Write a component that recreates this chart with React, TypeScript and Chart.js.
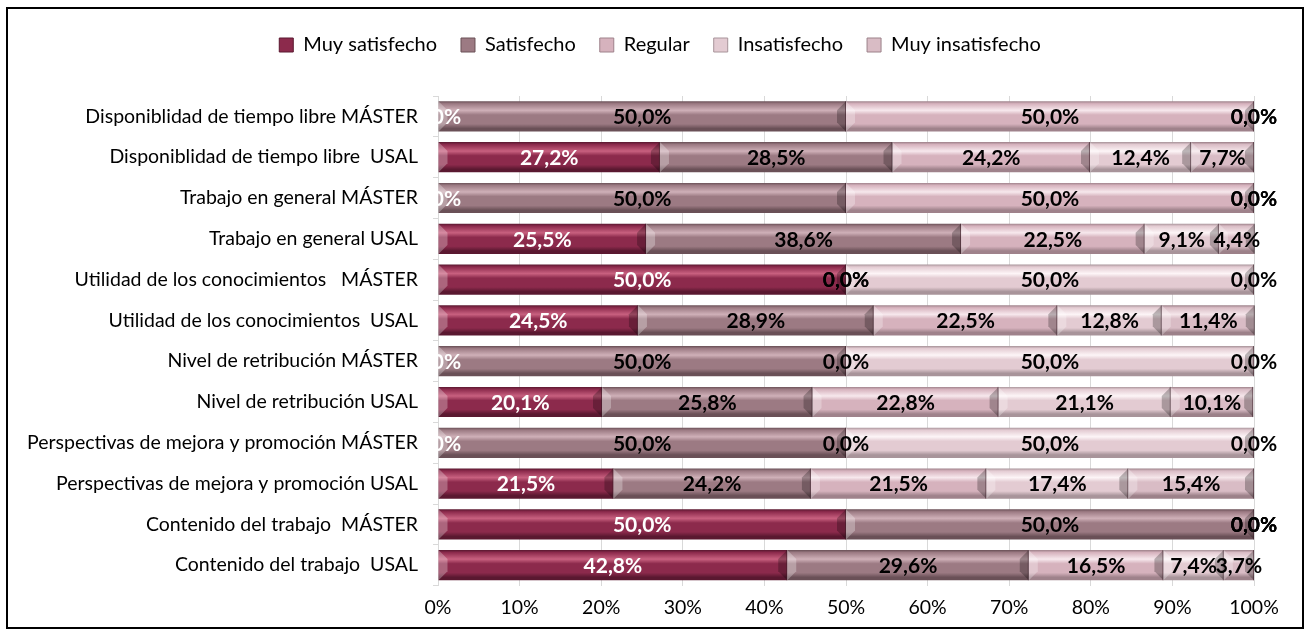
import React, { useEffect, useRef } from "react";
import { Chart, registerables } from "chart.js";

Chart.register(...registerables);

const categories = [
  "Disponiblidad de tiempo libre MÁSTER",
  "Disponiblidad de tiempo libre  USAL",
  "Trabajo en general MÁSTER",
  "Trabajo en general USAL",
  "Utilidad de los conocimientos   MÁSTER",
  "Utilidad de los conocimientos  USAL",
  "Nivel de retribución MÁSTER",
  "Nivel de retribución USAL",
  "Perspectivas de mejora y promoción MÁSTER",
  "Perspectivas de mejora y promoción USAL",
  "Contenido del trabajo  MÁSTER",
  "Contenido del trabajo  USAL",
];

const seriesNames = ["Muy satisfecho", "Satisfecho", "Regular", "Insatisfecho", "Muy insatisfecho"];

const muySatisfecho = [0, 27.2, 0, 25.5, 50, 24.5, 0, 20.1, 0, 21.5, 50, 42.8];
const satisfecho = [50, 28.5, 50, 38.6, 0, 28.9, 50, 25.8, 50, 24.2, 50, 29.6];
const regular = [50, 24.2, 50, 22.5, 0, 22.5, 0, 22.8, 0, 21.5, 0, 16.5];
const insatisfecho = [0, 12.4, 0, 9.1, 50, 12.8, 50, 21.1, 50, 17.4, 0, 7.4];
const muyInsatisfecho = [0, 7.7, 0, 4.4, 0, 11.4, 0, 10.1, 0, 15.4, 0, 3.7];

const xTicks = [0, 10, 20, 30, 40, 50, 60, 70, 80, 90, 100];

// [base, highlight, dark]
const palettes: [string, string, string][] = [
  ["#8c2a4c", "#c8607f", "#5a1830"],
  ["#9c7a83", "#cfb0b8", "#6a5057"],
  ["#d6b2bd", "#f7e8ed", "#9f828b"],
  ["#e3cbd2", "#fdf5f7", "#a8949a"],
  ["#d9bcc5", "#f5e6ea", "#9c8189"],
];
const labelColors = ["#ffffff", "#000000", "#000000", "#000000", "#000000"];

const FONT = "Lato, 'Open Sans', sans-serif";
const BAR_PCT = 0.74;

function makeFill(idx: number) {
  const [base, hi, dark] = palettes[idx];
  return (ctx: any) => {
    const chart = ctx.chart;
    if (!chart.chartArea || ctx.type !== "data") return base;
    const y = chart.scales.y;
    const cy = y.getPixelForValue(ctx.dataIndex);
    const band = (y.height / categories.length) * BAR_PCT;
    const g = chart.ctx.createLinearGradient(0, cy - band / 2, 0, cy + band / 2);
    g.addColorStop(0, dark);
    g.addColorStop(0.08, base);
    g.addColorStop(0.3, hi);
    g.addColorStop(0.45, base);
    g.addColorStop(0.75, base);
    g.addColorStop(0.9, dark);
    g.addColorStop(1, dark);
    return g;
  };
}

const legendSpacer = {
  id: "legendSpacer",
  beforeInit(chart: any) {
    const lg = chart.legend;
    if (!lg) return;
    const orig = lg.fit;
    lg.fit = function () {
      orig.call(this);
      this.height += 31;
    };
  },
  afterLayout(chart: any) {
    const lg = chart.legend;
    if (!lg) return;
    lg.left += 29;
    lg.right += 29;
  },
};

const bevelPlugin = {
  id: "bevel",
  afterDatasetsDraw(chart: any) {
    const c = chart.ctx;
    chart.data.datasets.forEach((_: any, di: number) => {
      const meta = chart.getDatasetMeta(di);
      meta.data.forEach((el: any) => {
        const x0 = Math.min(el.base, el.x);
        const x1 = Math.max(el.base, el.x);
        const top = el.y - el.height / 2;
        const bot = el.y + el.height / 2;
        const w = x1 - x0;
        if (w < 2) return;
        const b = Math.min(9, w / 2);
        c.save();
        c.fillStyle = "rgba(255,255,255,0.28)";
        c.beginPath();
        c.moveTo(x0, top);
        c.lineTo(x0 + b, top + b);
        c.lineTo(x0 + b, bot - b);
        c.lineTo(x0, bot);
        c.closePath();
        c.fill();
        c.fillStyle = "rgba(0,0,0,0.25)";
        c.beginPath();
        c.moveTo(x1, top);
        c.lineTo(x1 - b, top + b);
        c.lineTo(x1 - b, bot - b);
        c.lineTo(x1, bot);
        c.closePath();
        c.fill();
        c.strokeStyle = "rgba(60,30,40,0.55)";
        c.lineWidth = 1;
        c.beginPath();
        c.moveTo(x1 - 0.5, top);
        c.lineTo(x1 - 0.5, bot);
        c.stroke();
        c.restore();
      });
    });
  },
};

const valueLabelPlugin = {
  id: "valueLabels",
  afterDatasetsDraw(chart: any) {
    const c = chart.ctx;
    const area = chart.chartArea;
    c.save();
    c.beginPath();
    c.rect(area.left, 0, chart.width - area.left, chart.height);
    c.clip();
    c.font = `bold 21px ${FONT}`;
    c.textAlign = "center";
    c.textBaseline = "middle";
    chart.data.datasets.forEach((ds: any, di: number) => {
      const meta = chart.getDatasetMeta(di);
      meta.data.forEach((el: any, i: number) => {
        const v = ds.data[i];
        const p = el.getCenterPoint();
        c.fillStyle = labelColors[di];
        c.fillText(v.toFixed(1).replace(".", ",") + "%", p.x, p.y + 1);
      });
    });
    c.restore();
  },
};

export default function App() {
  const ref = useRef<HTMLCanvasElement | null>(null);
  useEffect(() => {
    if (!ref.current) return;
    const series = [muySatisfecho, satisfecho, regular, insatisfecho, muyInsatisfecho];
    const chart = new Chart(ref.current, {
      type: "bar",
      data: {
        labels: categories,
        datasets: series.map((d, i) => ({
          label: seriesNames[i],
          data: d,
          backgroundColor: makeFill(i),
          borderWidth: 0,
          barPercentage: BAR_PCT,
          categoryPercentage: 1,
        })),
      },
      options: {
        indexAxis: "y",
        animation: false,
        responsive: false,
        maintainAspectRatio: false,
        layout: { padding: { left: 0, right: 48, top: 2, bottom: -2 } },
        plugins: {
          tooltip: { enabled: false },
          legend: {
            position: "top",
            labels: {
              font: { family: FONT, size: 20 },
              color: "#000",
              boxWidth: 14,
              boxHeight: 14,
              padding: 24,
              generateLabels: (ch: any) =>
                ch.data.datasets.map((ds: any, i: number) => ({
                  text: ds.label,
                  fillStyle: palettes[i][0],
                  strokeStyle: palettes[i][2],
                  lineWidth: 1,
                  hidden: false,
                  datasetIndex: i,
                })),
            },
          },
        },
        scales: {
          x: {
            stacked: true,
            min: 0,
            max: 100,
            afterBuildTicks: (s: any) => {
              s.ticks = xTicks.map((v) => ({ value: v }));
            },
            ticks: {
              callback: (v: any) => v + "%",
              font: { family: FONT, size: 19.5 },
              color: "#000",
              padding: 10,
              maxRotation: 0,
            },
            grid: { color: "#d9d9d9", drawTicks: false },
            border: { display: false },
          },
          y: {
            stacked: true,
            ticks: {
              font: { family: FONT, size: 19.5 },
              color: "#000",
              padding: 15,
            },
            grid: {
              offset: true,
              drawOnChartArea: false,
              drawTicks: true,
              tickLength: 5,
              color: "#d9d9d9",
            },
            border: { display: true, color: "#d9d9d9" },
            afterFit: (s: any) => {
              s.width = 430;
            },
          },
        },
      },
      plugins: [legendSpacer, bevelPlugin, valueLabelPlugin],
    });
    return () => chart.destroy();
  }, []);

  return (
    <div
      style={{
        position: "fixed",
        left: 6,
        top: 7,
        width: 1298,
        height: 622,
        border: "2px solid #000",
        boxSizing: "border-box",
        background: "#fff",
      }}
    >
      <canvas ref={ref} width={1294} height={618} style={{ display: "block" }} />
    </div>
  );
}
